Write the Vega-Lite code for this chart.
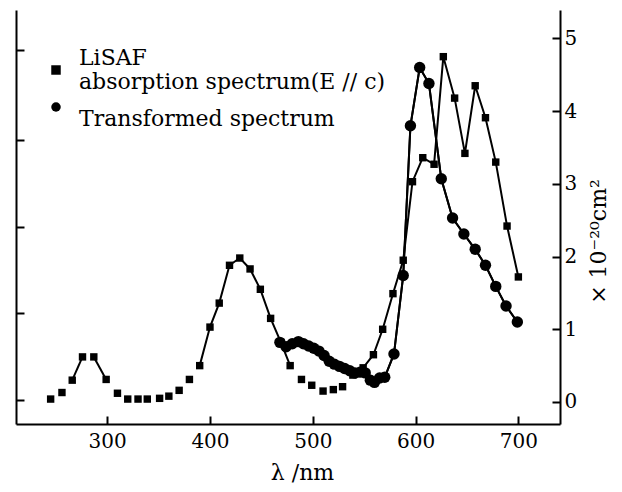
{
  "$schema": "https://vega.github.io/schema/vega-lite/v6.json",
  "width": 544,
  "height": 414,
  "autosize": {"type": "none"},
  "padding": {"left": 16, "top": 10, "right": 62, "bottom": 68},
  "background": "white",
  "config": {"view": {"stroke": null}, "font": "DejaVu Serif"},
  "data": {
    "values": [
      {"series": "abs", "nm": 245, "v": 0.04, "seg": null},
      {"series": "abs", "nm": 256, "v": 0.13, "seg": null},
      {"series": "abs", "nm": 266, "v": 0.30, "seg": "s1"},
      {"series": "abs", "nm": 276, "v": 0.62, "seg": "s1"},
      {"series": "abs", "nm": 287, "v": 0.62, "seg": "s2"},
      {"series": "abs", "nm": 299, "v": 0.31, "seg": "s2"},
      {"series": "abs", "nm": 310, "v": 0.12, "seg": null},
      {"series": "abs", "nm": 320, "v": 0.04, "seg": null},
      {"series": "abs", "nm": 330, "v": 0.04, "seg": null},
      {"series": "abs", "nm": 339, "v": 0.04, "seg": null},
      {"series": "abs", "nm": 351, "v": 0.05, "seg": null},
      {"series": "abs", "nm": 360, "v": 0.08, "seg": null},
      {"series": "abs", "nm": 370, "v": 0.16, "seg": null},
      {"series": "abs", "nm": 380, "v": 0.31, "seg": null},
      {"series": "abs", "nm": 390, "v": 0.50, "seg": "s3"},
      {"series": "abs", "nm": 400, "v": 1.03, "seg": "s3"},
      {"series": "abs", "nm": 409, "v": 1.36, "seg": "s3"},
      {"series": "abs", "nm": 419, "v": 1.88, "seg": "s3"},
      {"series": "abs", "nm": 429, "v": 1.98, "seg": "s3"},
      {"series": "abs", "nm": 439, "v": 1.83, "seg": "s3"},
      {"series": "abs", "nm": 449, "v": 1.55, "seg": "s3"},
      {"series": "abs", "nm": 459, "v": 1.15, "seg": "s3"},
      {"series": "abs", "nm": 469, "v": 0.82, "seg": "s3"},
      {"series": "abs", "nm": 478, "v": 0.50, "seg": "s3"},
      {"series": "abs", "nm": 489, "v": 0.31, "seg": null},
      {"series": "abs", "nm": 499, "v": 0.23, "seg": null},
      {"series": "abs", "nm": 510, "v": 0.15, "seg": null},
      {"series": "abs", "nm": 520, "v": 0.17, "seg": null},
      {"series": "abs", "nm": 529, "v": 0.21, "seg": null},
      {"series": "abs", "nm": 539, "v": 0.37, "seg": "s4"},
      {"series": "abs", "nm": 549, "v": 0.47, "seg": "s4"},
      {"series": "abs", "nm": 559, "v": 0.65, "seg": "s4"},
      {"series": "abs", "nm": 568, "v": 1.00, "seg": "s4"},
      {"series": "abs", "nm": 578, "v": 1.49, "seg": "s4"},
      {"series": "abs", "nm": 588, "v": 1.95, "seg": "s4"},
      {"series": "abs", "nm": 597, "v": 3.03, "seg": "s4"},
      {"series": "abs", "nm": 607, "v": 3.36, "seg": "s4"},
      {"series": "abs", "nm": 618, "v": 3.27, "seg": "s4"},
      {"series": "abs", "nm": 627, "v": 4.75, "seg": "s4"},
      {"series": "abs", "nm": 638, "v": 4.18, "seg": "s4"},
      {"series": "abs", "nm": 648, "v": 3.42, "seg": "s4"},
      {"series": "abs", "nm": 658, "v": 4.35, "seg": "s4"},
      {"series": "abs", "nm": 668, "v": 3.91, "seg": "s4"},
      {"series": "abs", "nm": 678, "v": 3.30, "seg": "s4"},
      {"series": "abs", "nm": 689, "v": 2.42, "seg": "s4"},
      {"series": "abs", "nm": 700, "v": 1.72, "seg": "s4"},
      {"series": "tr", "nm": 468, "v": 0.82, "seg": "t"},
      {"series": "tr", "nm": 474, "v": 0.76, "seg": "t"},
      {"series": "tr", "nm": 480, "v": 0.80, "seg": "t"},
      {"series": "tr", "nm": 486, "v": 0.83, "seg": "t"},
      {"series": "tr", "nm": 491, "v": 0.80, "seg": "t"},
      {"series": "tr", "nm": 496, "v": 0.77, "seg": "t"},
      {"series": "tr", "nm": 501, "v": 0.74, "seg": "t"},
      {"series": "tr", "nm": 506, "v": 0.70, "seg": "t"},
      {"series": "tr", "nm": 511, "v": 0.64, "seg": "t"},
      {"series": "tr", "nm": 516, "v": 0.56, "seg": "t"},
      {"series": "tr", "nm": 521, "v": 0.52, "seg": "t"},
      {"series": "tr", "nm": 526, "v": 0.49, "seg": "t"},
      {"series": "tr", "nm": 531, "v": 0.46, "seg": "t"},
      {"series": "tr", "nm": 536, "v": 0.43, "seg": "t"},
      {"series": "tr", "nm": 541, "v": 0.40, "seg": "t"},
      {"series": "tr", "nm": 546, "v": 0.41, "seg": "t"},
      {"series": "tr", "nm": 551, "v": 0.40, "seg": "t"},
      {"series": "tr", "nm": 556, "v": 0.30, "seg": "t"},
      {"series": "tr", "nm": 560, "v": 0.27, "seg": "t"},
      {"series": "tr", "nm": 565, "v": 0.33, "seg": "t"},
      {"series": "tr", "nm": 570, "v": 0.34, "seg": "t"},
      {"series": "tr", "nm": 579, "v": 0.66, "seg": "t"},
      {"series": "tr", "nm": 588, "v": 1.74, "seg": "t"},
      {"series": "tr", "nm": 595, "v": 3.80, "seg": "t"},
      {"series": "tr", "nm": 604, "v": 4.60, "seg": "t"},
      {"series": "tr", "nm": 613, "v": 4.38, "seg": "t"},
      {"series": "tr", "nm": 625, "v": 3.07, "seg": "t"},
      {"series": "tr", "nm": 636, "v": 2.53, "seg": "t"},
      {"series": "tr", "nm": 647, "v": 2.31, "seg": "t"},
      {"series": "tr", "nm": 658, "v": 2.10, "seg": "t"},
      {"series": "tr", "nm": 668, "v": 1.88, "seg": "t"},
      {"series": "tr", "nm": 678, "v": 1.59, "seg": "t"},
      {"series": "tr", "nm": 688, "v": 1.32, "seg": "t"},
      {"series": "tr", "nm": 699, "v": 1.10, "seg": "t"}
    ]
  },
  "layer": [
    {
      "transform": [{"filter": "datum.seg != null"}],
      "mark": {"type": "line", "color": "black", "strokeWidth": 2},
      "encoding": {
        "x": {
          "field": "nm", "type": "quantitative",
          "scale": {"domain": [211.3, 740.5], "nice": false, "zero": false},
          "axis": {
            "values": [300, 400, 500, 600, 700],
            "title": "λ /nm",
            "grid": false,
            "domainColor": "black", "domainWidth": 2,
            "tickColor": "black", "tickWidth": 2, "tickSize": -8,
            "labelFont": "DejaVu Serif", "labelFontSize": 20, "labelColor": "black",
            "labelPadding": 15, "labelBaseline": "top",
            "titleFont": "DejaVu Serif", "titleFontSize": 22, "titleFontWeight": "normal", "titleColor": "black",
            "titleX": 286, "titleY": 48, "titleAlign": "center", "titleBaseline": "middle"
          }
        },
        "y": {
          "field": "v", "type": "quantitative",
          "scale": {"domain": [-0.303, 5.392], "nice": false, "zero": false},
          "axis": {
            "orient": "right",
            "values": [0, 1, 2, 3, 4, 5],
            "format": "d",
            "title": "× 10⁻²⁰cm²",
            "grid": false,
            "domainColor": "black", "domainWidth": 2,
            "tickColor": "black", "tickWidth": 2, "tickSize": -8,
            "labelFont": "DejaVu Serif", "labelFontSize": 20, "labelColor": "black",
            "labelPadding": 12,
            "titleFont": "DejaVu Serif", "titleFontSize": 22, "titleFontWeight": "normal", "titleColor": "black",
            "titleAngle": 270, "titleX": 38, "titleY": 231, "titleAlign": "center", "titleBaseline": "middle"
          }
        },
        "detail": {"field": "seg"}
      }
    },
    {
      "transform": [{"filter": "datum.series == 'tr'"}],
      "mark": {"type": "line", "color": "black", "strokeWidth": 2},
      "encoding": {
        "x": {"field": "nm", "type": "quantitative"},
        "y": {"field": "v", "type": "quantitative", "axis": null}
      }
    },
    {
      "transform": [{"filter": "datum.series == 'abs'"}],
      "mark": {"type": "point", "filled": true, "opacity": 1, "color": "black", "size": 55},
      "encoding": {
        "x": {"field": "nm", "type": "quantitative"},
        "y": {
          "field": "v", "type": "quantitative",
          "axis": {
            "orient": "left",
            "values": [0.03, 1.22, 2.41, 3.61, 4.84],
            "labels": false,
            "title": null,
            "grid": false,
            "domainColor": "black", "domainWidth": 2,
            "tickColor": "black", "tickWidth": 2, "tickSize": -8
          }
        },
        "shape": {
          "field": "series", "type": "nominal",
          "scale": {"domain": ["abs", "tr"], "range": ["square", "circle"]},
          "legend": {
            "orient": "none", "legendX": 29, "legendY": 49,
            "title": null,
            "labelExpr": "datum.value == 'abs' ? ['LiSAF', 'absorption spectrum(E // c)'] : ['', 'Transformed spectrum']",
            "labelFont": "DejaVu Serif", "labelFontSize": 22, "labelColor": "black",
            "labelBaseline": "bottom",
            "labelOffset": 12, "labelLimit": 500,
            "symbolFillColor": "black", "symbolStrokeColor": "black", "symbolSize": 90,
            "rowPadding": -9
          }
        }
      }
    },
    {
      "transform": [{"filter": "datum.series == 'tr'"}],
      "mark": {"type": "point", "filled": true, "opacity": 1, "color": "black", "size": 130},
      "encoding": {
        "x": {"field": "nm", "type": "quantitative"},
        "y": {"field": "v", "type": "quantitative", "axis": null},
        "shape": {"field": "series", "type": "nominal"}
      }
    }
  ],
  "resolve": {"axis": {"y": "independent"}}
}
